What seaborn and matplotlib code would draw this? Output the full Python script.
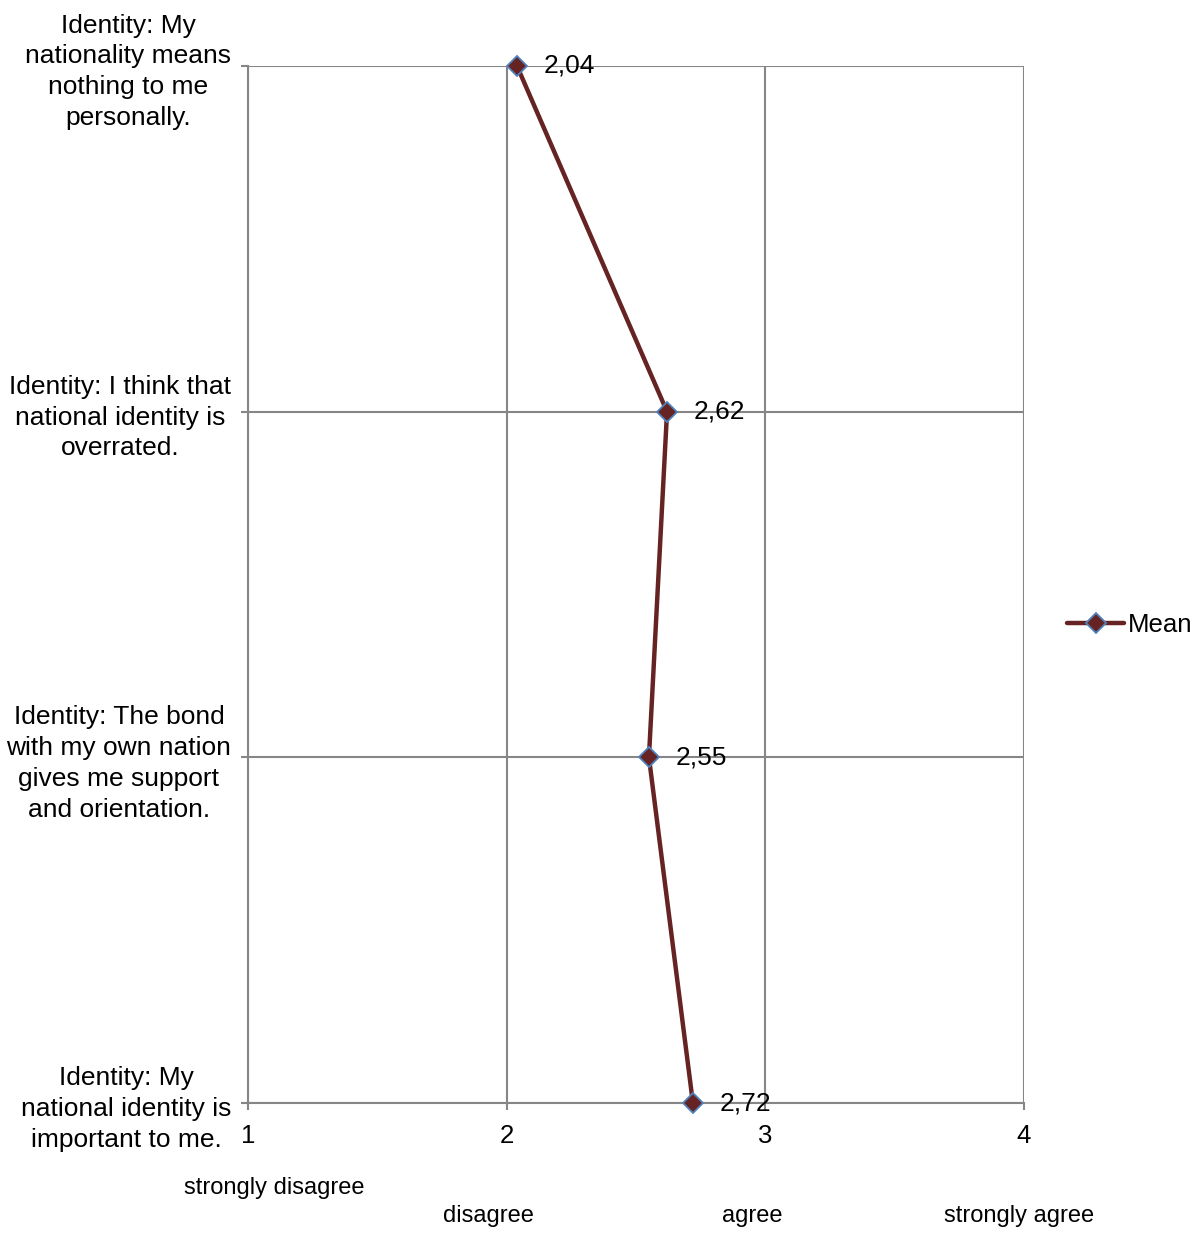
import matplotlib
matplotlib.use("Agg")
import matplotlib.pyplot as plt
import pandas as pd
import seaborn as sns

# Data
statements = [
    "Identity: My\nnationality means\nnothing to me\npersonally.",
    "Identity: I think that\nnational identity is\noverrated.",
    "Identity: The bond\nwith my own nation\ngives me support\nand orientation.",
    "Identity: My\nnational identity is\nimportant to me.",
]
means = [2.04, 2.62, 2.55, 2.72]
scale_ticks = [1, 2, 3, 4]
scale_names = ["strongly disagree", "disagree", "agree", "strongly agree"]

LINE_COLOR = "#662323"
EDGE_COLOR = "#4F81BD"
GRID_COLOR = "#868686"

sns.set_style("white")
plt.rcParams["font.family"] = ["Liberation Sans", "DejaVu Sans"]
plt.rcParams["text.color"] = "black"
plt.rcParams["xtick.labelcolor"] = "black"
plt.rcParams["ytick.labelcolor"] = "black"

df = pd.DataFrame({"statement": statements, "mean": means})

fig = plt.figure(figsize=(12.01, 12.33), dpi=100)
ax = fig.add_axes([248 / 1201, 1 - 1103 / 1233, (1024 - 248) / 1201, (1103 - 66) / 1233])

sns.pointplot(
    data=df,
    x="mean",
    y="statement",
    orient="h",
    color=LINE_COLOR,
    markers="D",
    linewidth=3.2,
    markersize=10,
    markeredgecolor=EDGE_COLOR,
    markeredgewidth=1.3,
    errorbar=None,
    label="Mean",
    ax=ax,
)
for ln in ax.lines:
    ln.set_clip_on(False)
    ln.set_zorder(5)

ax.set_xlim(1, 4)
ax.set_ylim(len(statements) - 1, 0)
ax.set_xticks(scale_ticks)
ax.set_xticklabels([str(t) for t in scale_ticks])
ax.set_yticks(range(len(statements)))
ax.set_yticklabels(statements, multialignment="center")
ax.set_xlabel("")
ax.set_ylabel("")

ax.grid(True, color=GRID_COLOR, linewidth=1.5)
ax.set_axisbelow(True)
for side in ["top", "right"]:
    ax.spines[side].set_visible(False)
for side in ["left", "bottom"]:
    ax.spines[side].set_color(GRID_COLOR)
    ax.spines[side].set_linewidth(1.5)
    ax.spines[side].set_zorder(0.5)

ax.tick_params(axis="y", length=5, width=1.5, color=GRID_COLOR, pad=7, labelsize=19, left=True)
ax.tick_params(axis="x", length=5, width=1.5, color=GRID_COLOR, pad=10, labelsize=18.5, bottom=True)
for lab in ax.get_yticklabels():
    lab.set_linespacing(1.36)

# value labels next to each point
for i, v in enumerate(means):
    ax.annotate(
        f"{v:.2f}".replace(".", ","),
        xy=(v, i),
        xytext=(19, 0),
        textcoords="offset points",
        ha="left",
        va="center",
        fontsize=19,
        annotation_clip=False,
    )

# verbal scale labels under the numeric ticks
name_offsets = [(0.1, -85), (-0.07, -113), (-0.05, -113), (-0.02, -113)]
for t, name, (dx, dy) in zip(scale_ticks, scale_names, name_offsets):
    ax.annotate(
        name,
        xy=(t + dx, len(statements) - 1),
        xytext=(0, dy * 0.72),
        textcoords="offset points",
        ha="center",
        va="center",
        fontsize=17,
        annotation_clip=False,
    )

handles, labels = ax.get_legend_handles_labels()
leg = ax.get_legend()
if leg is not None:
    leg.remove()
fig.legend(
    handles[:1],
    ["Mean"],
    loc="center left",
    bbox_to_anchor=(1057 / 1201, 1 - 625 / 1233),
    frameon=False,
    fontsize=18.5,
    handlelength=2.2,
    handletextpad=0.15,
    borderaxespad=0,
)

fig.savefig("out.png", dpi=100)
